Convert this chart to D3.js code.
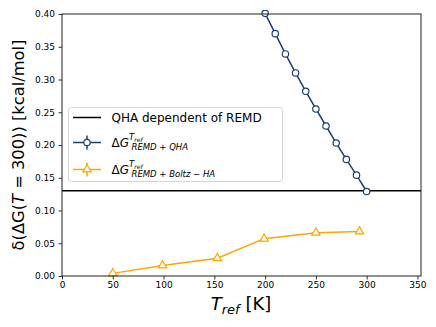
<!DOCTYPE html>
<html>
<head>
<meta charset="utf-8">
<script src="https://d3js.org/d3.v7.min.js"></script>
<style>
  body { margin: 0; background: #fff; }
  text { font-family: "DejaVu Sans", sans-serif; }
</style>
</head>
<body>
<script>
// data
var qhaLevel = 0.130;
var tQha = [200, 210, 220, 230, 240, 250, 260, 270, 280, 290, 300];
var dgQha = [0.401, 0.370, 0.339, 0.310, 0.282, 0.255, 0.229, 0.203, 0.178, 0.154, 0.129];
var tBoltz = [50, 99, 153, 199, 250, 293];
var dgBoltz = [0.004, 0.016, 0.027, 0.057, 0.066, 0.068];
var xTicks = [0, 50, 100, 150, 200, 250, 300, 350];
var yTicks = [0.00, 0.05, 0.10, 0.15, 0.20, 0.25, 0.30, 0.35, 0.40];

var W = 436, H = 327;
var pL = 62, pR = 421, pT = 14, pB = 276;
var blue = "#1c3f6e", orange = "#ffa500";

var svg = d3.select("body").append("svg").attr("width", W).attr("height", H);

var x = d3.scaleLinear().domain([0, 353.5]).range([pL, pR]);
var y = d3.scaleLinear().domain([0, 0.40]).range([pB, pT]);

svg.append("clipPath").attr("id", "clip")
  .append("rect").attr("x", pL).attr("y", pT - 4)
  .attr("width", pR - pL).attr("height", pB - pT + 8);

var plot = svg.append("g").attr("clip-path", "url(#clip)");

// horizontal reference line
plot.append("line")
  .attr("x1", pL).attr("x2", pR)
  .attr("y1", y(qhaLevel)).attr("y2", y(qhaLevel))
  .attr("stroke", "#000").attr("stroke-width", 1.5);

var qha = tQha.map(function(t, i) { return [t, dgQha[i]]; });
var boltz = tBoltz.map(function(t, i) { return [t, dgBoltz[i]]; });
var line = d3.line().x(function(d) { return x(d[0]); }).y(function(d) { return y(d[1]); });

plot.append("path").datum(boltz).attr("d", line)
  .attr("fill", "none").attr("stroke", orange).attr("stroke-width", 1.5);
var tri = d3.symbol().type(d3.symbolTriangle).size(30);
plot.selectAll(".tri").data(boltz).enter().append("path")
  .attr("d", tri)
  .attr("transform", function(d) { return "translate(" + x(d[0]) + "," + y(d[1]) + ")"; })
  .attr("fill", "#fff").attr("stroke", orange).attr("stroke-width", 1.2);

plot.append("path").datum(qha).attr("d", line)
  .attr("fill", "none").attr("stroke", blue).attr("stroke-width", 1.5);
plot.selectAll(".circ").data(qha).enter().append("circle")
  .attr("cx", function(d) { return x(d[0]); })
  .attr("cy", function(d) { return y(d[1]); })
  .attr("r", 3.2).attr("fill", "#fff").attr("stroke", blue).attr("stroke-width", 1.2);

// axes
var xAxis = svg.append("g").attr("transform", "translate(0," + pB + ")")
  .call(d3.axisBottom(x).tickValues(xTicks).tickSize(3.5).tickPadding(2));
var yAxis = svg.append("g").attr("transform", "translate(" + pL + ",0)")
  .call(d3.axisLeft(y).tickValues(yTicks).tickSize(3.5).tickPadding(3.5).tickFormat(d3.format(".2f")));
[xAxis, yAxis].forEach(function(a) {
  a.select(".domain").remove();
  a.selectAll("text").attr("font-family", "DejaVu Sans, sans-serif").attr("font-size", 9).attr("fill", "#000");
  a.selectAll("line").attr("stroke", "#000").attr("stroke-width", 0.8);
});

svg.append("rect").attr("x", pL).attr("y", pT)
  .attr("width", pR - pL).attr("height", pB - pT)
  .attr("fill", "none").attr("stroke", "#222").attr("stroke-width", 1);

// axis labels
var xl = svg.append("text").attr("x", 241).attr("y", 310)
  .attr("text-anchor", "middle").attr("font-size", 18);
xl.append("tspan").attr("font-style", "italic").text("T");
xl.append("tspan").attr("font-style", "italic").attr("font-size", 13).attr("dy", 4).text("ref");
xl.append("tspan").attr("dy", -4).text(" [K]");

var yl = svg.append("text")
  .attr("transform", "translate(24," + ((pT + pB) / 2) + ") rotate(-90)")
  .attr("text-anchor", "middle").attr("font-size", 16.3);
yl.append("tspan").text("δ(ΔG(");
yl.append("tspan").attr("font-style", "italic").text("T");
yl.append("tspan").text(" = 300)) [kcal/mol]");

// legend
var lg = svg.append("g");
lg.append("rect").attr("x", 68.5).attr("y", 107.5).attr("width", 214).attr("height", 74)
  .attr("rx", 3).attr("fill", "#fff").attr("fill-opacity", 0.85)
  .attr("stroke", "#d6d6d6").attr("stroke-width", 1);

var hx0 = 73, hx1 = 101, hxm = 87;
var rows = [117.5, 142.5, 169.5];
lg.append("line").attr("x1", hx0).attr("x2", hx1).attr("y1", rows[0]).attr("y2", rows[0])
  .attr("stroke", "#000").attr("stroke-width", 1.5);
lg.append("text").attr("x", 111.5).attr("y", rows[0] + 4.3).attr("font-size", 12)
  .text("QHA dependent of REMD");

function entry(ry, color, marker, sub) {
  lg.append("line").attr("x1", hx0).attr("x2", hx1).attr("y1", ry).attr("y2", ry)
    .attr("stroke", color).attr("stroke-width", 1.5);
  lg.append("line").attr("x1", hxm).attr("x2", hxm).attr("y1", ry - 7).attr("y2", ry + 7)
    .attr("stroke", color).attr("stroke-width", 1.5);
  if (marker === "circle") {
    lg.append("circle").attr("cx", hxm).attr("cy", ry).attr("r", 3.2)
      .attr("fill", "#fff").attr("stroke", color).attr("stroke-width", 1.2);
  } else {
    lg.append("path").attr("d", tri).attr("transform", "translate(" + hxm + "," + ry + ")")
      .attr("fill", "#fff").attr("stroke", color).attr("stroke-width", 1.2);
  }
  var t = lg.append("text").attr("x", 111.5).attr("y", ry + 4).attr("font-size", 12);
  t.append("tspan").text("Δ");
  t.append("tspan").attr("font-style", "italic").text("G");
  t.append("tspan").attr("font-style", "italic").attr("font-size", 8.5).attr("dy", -7).text("T");
  t.append("tspan").attr("font-style", "italic").attr("font-size", 6).attr("dy", 2).text("ref");
  t.append("tspan").attr("font-style", "italic").attr("font-size", 8.5).attr("dy", 8.5)
    .attr("x", 131.5).text(sub);
}
entry(rows[1], blue, "circle", "REMD + QHA");
entry(rows[2], orange, "tri", "REMD + Boltz \u2212 HA");
</script>
</body>
</html>
